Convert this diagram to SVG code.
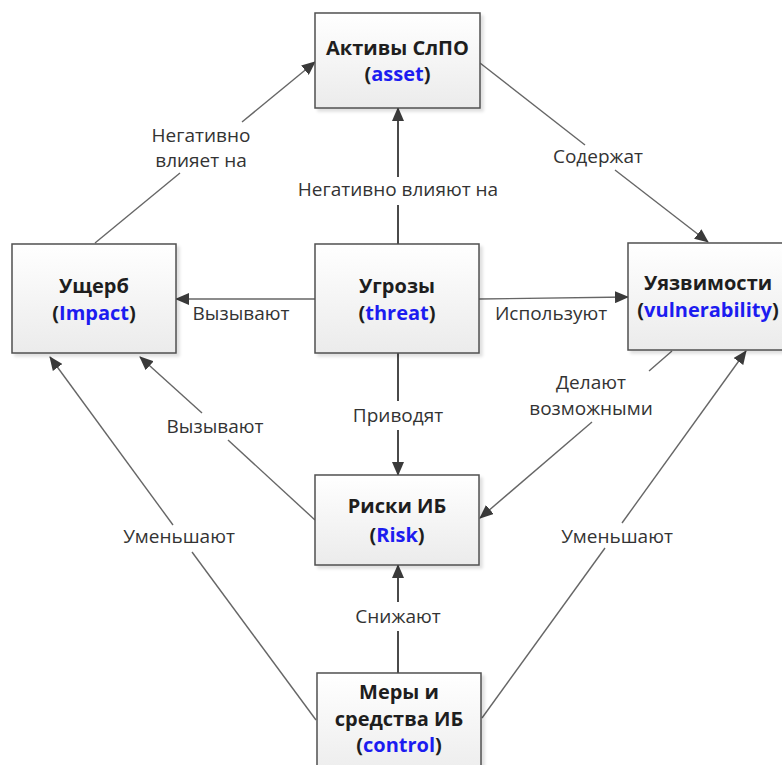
<svg xmlns="http://www.w3.org/2000/svg" width="782" height="765" viewBox="0 0 782 765">
  <defs>
    <linearGradient id="boxFill" x1="0" y1="0" x2="0" y2="1">
      <stop offset="0" stop-color="#ffffff"/>
      <stop offset="1" stop-color="#ebebeb"/>
    </linearGradient>
    <filter id="shadow" x="-10%" y="-10%" width="130%" height="130%">
      <feDropShadow dx="3" dy="3" stdDeviation="1.5" flood-color="#000" flood-opacity="0.12"/>
    </filter>
    <marker id="arrow" markerUnits="userSpaceOnUse" markerWidth="14" markerHeight="12" viewBox="0 0 14 12" refX="13" refY="6" orient="auto">
      <path d="M0,0 L14,6 L0,12 Z" fill="#3a3a3a"/>
    </marker>
  </defs>
  <style>
    .box { fill: url(#boxFill); stroke: #505050; stroke-width: 1.5; filter: url(#shadow); }
    .title { font-family: "Open Sans", "Liberation Sans", sans-serif; font-size: 20px; font-weight: bold; fill: #1e1e1e; text-anchor: middle; }
    .en { fill: #1c1cf0; }
    .lbl { font-family: "Open Sans", "Liberation Sans", sans-serif; font-size: 19px; fill: #333; text-anchor: middle; }
    .ln { stroke: #666; stroke-width: 1.4; fill: none; }
    .ln.dark { stroke: #4a4a4a; stroke-width: 2; }
  </style>
  <rect width="782" height="765" fill="#fff"/>

  <!-- connectors -->
  <g id="connectors">
    <!-- Ущерб -> Активы -->
    <line class="ln" x1="95" y1="243" x2="180" y2="173"/>
    <line class="ln" x1="242" y1="122" x2="315" y2="62" marker-end="url(#arrow)"/>
    <!-- Угрозы -> Активы -->
    <line class="ln dark" x1="398" y1="244" x2="398" y2="205"/>
    <line class="ln dark" x1="398" y1="177" x2="398" y2="108" marker-end="url(#arrow)"/>
    <!-- Активы -> Уязвимости -->
    <line class="ln" x1="480" y1="63" x2="585" y2="145"/>
    <line class="ln" x1="615" y1="170" x2="708" y2="242" marker-end="url(#arrow)"/>
    <!-- Угрозы -> Ущерб -->
    <line class="ln" x1="315" y1="299" x2="176" y2="299" marker-end="url(#arrow)"/>
    <!-- Угрозы -> Уязвимости -->
    <line class="ln" x1="479" y1="299" x2="628" y2="297" marker-end="url(#arrow)"/>
    <!-- Угрозы -> Риски -->
    <line class="ln dark" x1="398" y1="353" x2="398" y2="401"/>
    <line class="ln dark" x1="398" y1="430" x2="398" y2="475" marker-end="url(#arrow)"/>
    <!-- Уязвимости -> Риски -->
    <line class="ln" x1="672" y1="351" x2="649" y2="371"/>
    <line class="ln" x1="592" y1="422" x2="480" y2="518" marker-end="url(#arrow)"/>
    <!-- Риски -> Ущерб -->
    <line class="ln" x1="315" y1="520" x2="228" y2="440"/>
    <line class="ln" x1="202" y1="413" x2="140" y2="357" marker-end="url(#arrow)"/>
    <!-- Меры -> Ущерб -->
    <line class="ln" x1="316" y1="720" x2="192" y2="552"/>
    <line class="ln" x1="173" y1="525" x2="50" y2="357" marker-end="url(#arrow)"/>
    <!-- Меры -> Уязвимости -->
    <line class="ln" x1="482" y1="718" x2="605" y2="548"/>
    <line class="ln" x1="622" y1="523" x2="746" y2="351" marker-end="url(#arrow)"/>
    <!-- Меры -> Риски -->
    <line class="ln dark" x1="398" y1="673" x2="398" y2="631"/>
    <line class="ln dark" x1="398" y1="602" x2="398" y2="565" marker-end="url(#arrow)"/>

    <!-- connector labels -->
    <text class="lbl" x="201" y="142">Негативно</text>
    <text class="lbl" x="201" y="167">влияет на</text>
    <text class="lbl" x="398" y="196">Негативно влияют на</text>
    <text class="lbl" x="598" y="163">Содержат</text>
    <text class="lbl" x="241" y="320">Вызывают</text>
    <text class="lbl" x="551" y="320">Используют</text>
    <text class="lbl" x="398" y="422">Приводят</text>
    <text class="lbl" x="591" y="389">Делают</text>
    <text class="lbl" x="591" y="415">возможными</text>
    <text class="lbl" x="215" y="433">Вызывают</text>
    <text class="lbl" x="179" y="543">Уменьшают</text>
    <text class="lbl" x="617" y="543">Уменьшают</text>
    <text class="lbl" x="398" y="623">Снижают</text>
  </g>

  <!-- nodes -->
  <g id="asset">
    <rect class="box" x="315" y="13" width="165" height="95"/>
    <text class="title" x="397.5" y="55">Активы СлПО</text>
    <text class="title" x="397.5" y="81">(<tspan class="en">asset</tspan>)</text>
  </g>
  <g id="impact">
    <rect class="box" x="12" y="244" width="164" height="109"/>
    <text class="title" x="94" y="293">Ущерб</text>
    <text class="title" x="94" y="320">(<tspan class="en">Impact</tspan>)</text>
  </g>
  <g id="threat">
    <rect class="box" x="315" y="244" width="164" height="109"/>
    <text class="title" x="397" y="293">Угрозы</text>
    <text class="title" x="397" y="320">(<tspan class="en">threat</tspan>)</text>
  </g>
  <g id="vulnerability">
    <rect class="box" x="628" y="243" width="164" height="107"/>
    <text class="title" x="708" y="290">Уязвимости</text>
    <text class="title" x="708" y="317">(<tspan class="en">vulnerability</tspan>)</text>
  </g>
  <g id="risk">
    <rect class="box" x="315" y="475" width="164" height="90"/>
    <text class="title" x="397" y="513">Риски ИБ</text>
    <text class="title" x="397" y="542">(<tspan class="en">Risk</tspan>)</text>
  </g>
  <g id="control">
    <rect class="box" x="317" y="673" width="164" height="110"/>
    <text class="title" x="399" y="699">Меры и</text>
    <text class="title" x="399" y="726">средства ИБ</text>
    <text class="title" x="399" y="752">(<tspan class="en">control</tspan>)</text>
  </g>
</svg>
